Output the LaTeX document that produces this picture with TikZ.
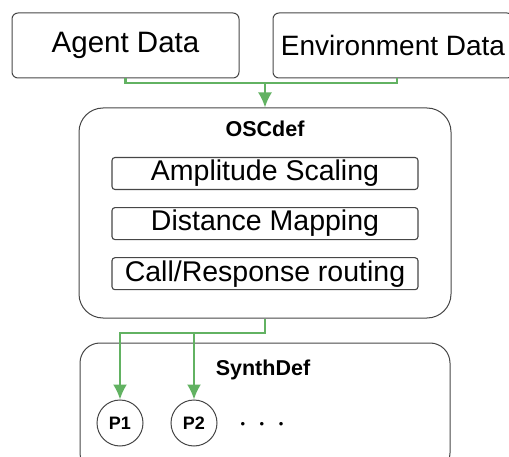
\documentclass[tikz,border=0pt]{standalone}
\usepackage{fontspec}
\setmainfont{Liberation Sans}
\usetikzlibrary{arrows.meta,positioning}

\definecolor{flowgreen}{RGB}{98,178,98}
\definecolor{edgegray}{RGB}{70,70,70}

\begin{document}
\begin{tikzpicture}[
    x=1pt, y=-1pt,
    node distance=17pt,
    databox/.style={draw=edgegray, line width=1pt, rounded corners=6pt, minimum width=227pt, minimum height=65pt, inner sep=0pt, font=\fontsize{29.5}{34}\selectfont},
    group/.style={draw=edgegray, line width=1pt, rounded corners=24pt, inner sep=0pt},
    grouptitle/.style={font=\bfseries\fontsize{21.5}{25}\selectfont, inner sep=0pt},
    stage/.style={draw=edgegray, line width=1.1pt, rounded corners=3pt, minimum width=306pt, minimum height=32pt, inner sep=0pt, font=\fontsize{28.5}{33}\selectfont},
    port/.style={circle, draw=edgegray, line width=1pt, minimum size=46pt, inner sep=0pt, font=\bfseries\fontsize{18}{21}\selectfont},
    flowline/.style={draw=flowgreen, line width=2.2pt},
    flow/.style={flowline, -{Latex[length=15pt,width=14pt]}}
]
\useasboundingbox (0,0) rectangle (509,457);
\clip (0,0) rectangle (509,457);

% inputs
\node[databox] (agent) at (125.5,45.5) {Agent Data};
\node[databox, minimum width=240pt, font=\fontsize{28}{32}\selectfont] (env) at (393,45.5) {Environment Data};

% OSCdef block
\node[group, minimum width=372pt, minimum height=210pt] (osc) at (265,213) {};
\node[grouptitle, below=13pt of osc.north] (osctitle) {OSCdef};
\node[stage] (amp) at (265,173.5) {Amplitude Scaling};
\node[stage, below=of amp] (dist) {Distance Mapping};
\node[stage, below=of dist] (route) {Call/Response routing};

% SynthDef block
\node[group, rounded corners=20pt, minimum width=370pt, minimum height=130pt] (synth) at (265,408) {};
\node[grouptitle] (synthtitle) at (263,370) {SynthDef};
\node[port] (p1) at (120,423) {P1};
\node[port] (p2) at (194,423) {P2};
\node[font=\fontsize{13}{15}\selectfont, inner sep=0pt] (more) at (262,425) {\textbullet\hspace{14.5pt}\textbullet\hspace{14.5pt}\textbullet};

% connectors
\coordinate (merge) at (265,83);
\coordinate (split) at (265,333);
\draw[flowline] (agent.south) |- (merge) -| ([xshift=4pt]env.south);
\draw[flow] (merge) -- (osc.north);
\draw[flow] (osc.south) -- (split) -| (p1.north);
\draw[flow] (p2.north |- split) -- (p2.north);
\end{tikzpicture}
\end{document}
